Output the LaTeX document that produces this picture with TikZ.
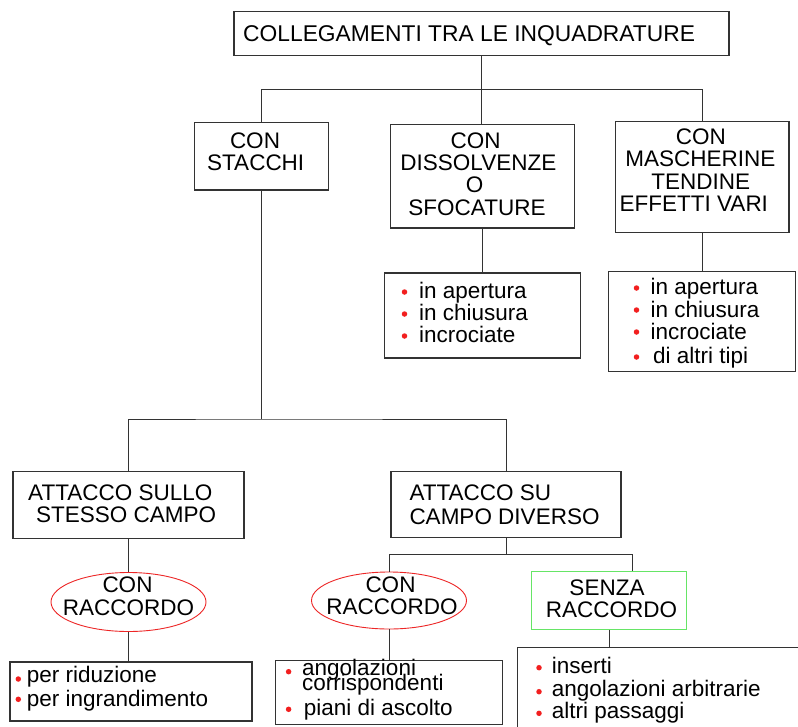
\documentclass[tikz,border=0pt]{standalone}
\usepackage{fontspec}
\setmainfont{Liberation Sans}
\usetikzlibrary{shapes.geometric}
\definecolor{frame}{rgb}{0.2,0.2,0.2}
\definecolor{bulletred}{rgb}{0.95,0.12,0.12}
\definecolor{ovalred}{rgb}{0.93,0.15,0.15}
\definecolor{boxgreen}{rgb}{0.4,0.9,0.4}
\tikzset{
  box/.style={draw=frame, line width=1.1pt, inner sep=0pt, rectangle},
  oval/.style={draw=ovalred, line width=0.9pt, ellipse, inner sep=0pt},
  greenbox/.style={draw=boxgreen, line width=1.1pt, inner sep=0pt, rectangle},
  conn/.style={draw=frame, line width=1pt},
  lbl/.style={inner sep=0pt, font=\fontsize{22.5}{22.5}\selectfont},
  lblc/.style={lbl, anchor=base},
  lbll/.style={lbl, anchor=base west},
  dot/.style={circle, fill=bulletred, inner sep=0pt, minimum size=5.5pt}
}
\begin{document}
\begin{tikzpicture}[x=1pt, y=-1pt]
\useasboundingbox (0,0) rectangle (798,726);
\clip (0,0) rectangle (798,726);
\fill[white] (0,0) rectangle (798,726);

% ---- boxes ----
\node[box, minimum width=495pt, minimum height=43.5pt] (top)   at (481.5,33.5) {};
\node[box, minimum width=134pt, minimum height=67.3pt] (stac)  at (261.3,156.3) {};
\node[box, minimum width=184pt, minimum height=103.5pt] (diss) at (482.6,176.2) {};
\node[box, minimum width=173.3pt, minimum height=110.3pt] (mask) at (702.3,176.9) {};
\node[box, minimum width=196pt, minimum height=85pt] (dlist)   at (482.3,315.5) {};
\node[box, minimum width=187pt, minimum height=100pt] (mlist)  at (702.4,321.7) {};
\node[box, minimum width=231pt, minimum height=66.5pt] (sullo) at (128.5,504.8) {};
\node[box, minimum width=230pt, minimum height=66.5pt] (su)    at (506,504.4) {};
\node[oval, minimum width=155pt, minimum height=59pt] (ell1)   at (128.5,602) {};
\node[oval, minimum width=155pt, minimum height=57pt] (ell2)   at (389,600.5) {};
\node[greenbox, minimum width=155.2pt, minimum height=58.3pt] (senza) at (609.1,600.2) {};
\node[box, minimum width=242pt, minimum height=59pt] (plist)   at (131,691.5) {};
\node[box, minimum width=227pt, minimum height=64.3pt] (alist) at (389.3,692.2) {};
\node[box, minimum width=320pt, minimum height=120pt] (slist)  at (677.3,707.3) {};

% ---- connectors ----
\coordinate (bus1) at (481.5,89.3);
\coordinate (bus2) at (261.3,419);
\coordinate (bus3) at (506,554);
\coordinate (bus3r) at (632,554);
\draw[conn] (top.south) -- (top.south |- diss.north);
\draw[conn] (stac.north) |- (bus1) -| (mask.north);
\draw[conn] (diss.south) -- (diss.south |- dlist.north);
\draw[conn] (mask.south) -- (mask.south |- mlist.north);
\draw[conn] (stac.south) -- (bus2);
\draw[conn] (sullo.north) |- (bus2) -| (su.north);
\draw[conn] (su.south) -- (bus3);
\draw[conn] (ell2.north) |- (bus3r) -- (bus3r |- senza.north);
\draw[conn] (sullo.south) -- (ell1.north);
\draw[conn] (ell1.south) -- (ell1.south |- plist.north);
\draw[conn] (ell2.south) -- (ell2.south |- alist.north);
\draw[conn] (senza.south) -- (senza.south |- slist.north);

% ---- headings ----
\node[lbll, font=\fontsize{22.8}{22.8}\selectfont] (ttop) at (243,41.5) {COLLEGAMENTI TRA LE INQUADRATURE};
\node[lblc] (ts1) at (255,148.3) {CON};
\node[lblc] (ts2) at (255.7,170) {STACCHI};
\node[lblc] (td1) at (475.5,148.3) {CON};
\node[lblc] (td2) at (478.4,170) {DISSOLVENZE};
\node[lblc] (td3) at (474.5,192.7) {O};
\node[lblc] (td4) at (477,215) {SFOCATURE};
\node[lblc] (tm1) at (700.8,144) {CON};
\node[lblc] (tm2) at (700.4,166.7) {MASCHERINE};
\node[lblc] (tm3) at (700.8,189) {TENDINE};
\node[lblc] (tm4) at (693.8,211.7) {EFFETTI VARI};
\node[lbll] (tl1) at (28,500) {ATTACCO SULLO};
\node[lbll] (tl2) at (36,522) {STESSO CAMPO};
\node[lbll] (tr1) at (409.3,500.7) {ATTACCO SU};
\node[lbll] (tr2) at (409.3,524) {CAMPO DIVERSO};
\node[lblc] (te1) at (127.5,592.7) {CON};
\node[lblc] (te2) at (128.5,615) {RACCORDO};
\node[lblc] (tf1) at (390.5,592) {CON};
\node[lblc] (tf2) at (392,614) {RACCORDO};
\node[lblc] (tg1) at (607,595) {SENZA};
\node[lblc] (tg2) at (611.6,617.3) {RACCORDO};

% ---- bullet lists ----
\node[dot] (bd1) at (404.5,292) {};
\node[dot] (bd2) at (404.5,314) {};
\node[dot] (bd3) at (404.5,336) {};
\node[lbll] (ld1) at (419,298) {in apertura};
\node[lbll] (ld2) at (419,320) {in chiusura};
\node[lbll] (ld3) at (419,342) {incrociate};

\node[dot] (bm1) at (636.5,288) {};
\node[dot] (bm2) at (636.5,310) {};
\node[dot] (bm3) at (636.5,332) {};
\node[dot] (bm4) at (636.5,357) {};
\node[lbll] (lm1) at (650.4,294) {in apertura};
\node[lbll] (lm2) at (650.4,317) {in chiusura};
\node[lbll] (lm3) at (650.4,339) {incrociate};
\node[lbll] (lm4) at (653,363) {di altri tipi};

\node[dot] (bp1) at (18.3,679) {};
\node[dot] (bp2) at (18.3,699.3) {};
\node[lbll] (lp1) at (26.7,682.7) {per riduzione};
\node[lbll] (lp2) at (26.7,706) {per ingrandimento};

\node[dot] (ba1) at (288.6,671.7) {};
\node[dot] (ba2) at (288.6,709.3) {};
\node[lbll] (la1) at (302,675) {angolazioni};
\node[lbll] (la2) at (302,690) {corrispondenti};
\node[lbll] (la3) at (303.7,715.7) {piani di ascolto};

\node[dot] (bs1) at (539,667.7) {};
\node[dot] (bs2) at (539,691.7) {};
\node[dot] (bs3) at (539,713.3) {};
\node[lbll] (ls1) at (551.7,673.3) {inserti};
\node[lbll] (ls2) at (551.7,696.7) {angolazioni arbitrarie};
\node[lbll] (ls3) at (551.7,718.3) {altri passaggi};
\end{tikzpicture}
\end{document}
